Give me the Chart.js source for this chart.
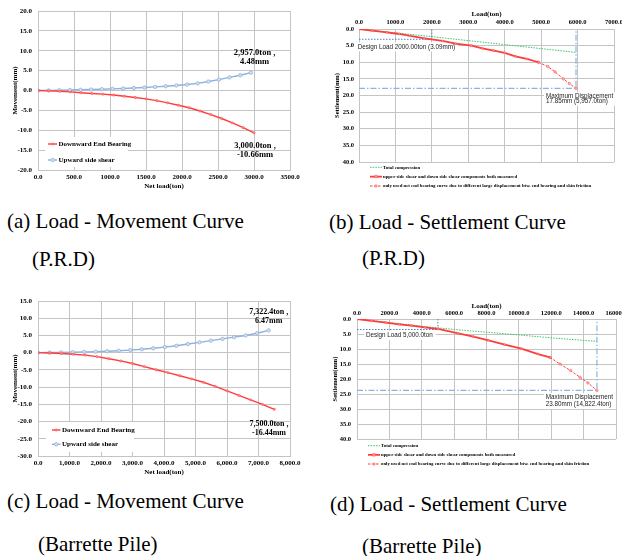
<!DOCTYPE html>
<html>
<head>
<meta charset="utf-8">
<title>Load - Movement / Settlement Curves</title>
<script src="https://cdn.jsdelivr.net/npm/chart.js@4.4.1/dist/chart.umd.min.js"></script>
<style>
  html, body { margin: 0; padding: 0; overflow: hidden; background: #fff; }
  body { position: relative; width: 622px; height: 556px; }
  canvas { position: absolute; }
  .cap { position: absolute; font-family: "Liberation Serif", "Times New Roman", serif; font-size: 21px; line-height: 21px; white-space: nowrap; color: #000; }
</style>
</head>
<body>
<canvas id="chartA" width="310" height="200" style="left:0;top:0"></canvas>
<canvas id="chartB" width="330" height="200" style="left:310px;top:0"></canvas>
<canvas id="chartC" width="310" height="200" style="left:0;top:280px"></canvas>
<canvas id="chartD" width="330" height="200" style="left:310px;top:280px"></canvas>

<div class="cap" style="left:7px;top:211px">(a) Load - Movement Curve</div>
<div class="cap" style="left:32px;top:249px">(P.R.D)</div>
<div class="cap" style="left:329px;top:212px">(b) Load - Settlement Curve</div>
<div class="cap" style="left:362px;top:248px">(P.R.D)</div>
<div class="cap" style="left:7px;top:491px">(c) Load - Movement Curve</div>
<div class="cap" style="left:38px;top:534px">(Barrette Pile)</div>
<div class="cap" style="left:330px;top:494px">(d) Load - Settlement Curve</div>
<div class="cap" style="left:362px;top:536px">(Barrette Pile)</div>

<script>
// ---- data ----
// (a) P.R.D, load - movement
const loadA_end = [0, 150, 300, 450, 600, 750, 900, 1050, 1200, 1350, 1500, 1650, 1800, 1950, 2100, 2250, 2400, 2550, 2700, 2850, 3000];
const moveA_end = [0, -0.1, -0.2, -0.35, -0.55, -0.75, -0.92, -1.15, -1.45, -1.75, -2.1, -2.55, -3.1, -3.7, -4.35, -5.15, -6.05, -7.05, -8.15, -9.35, -10.66];
const loadA_side = [0, 148, 296, 444, 591, 739, 887, 1035, 1183, 1331, 1479, 1626, 1774, 1922, 2070, 2218, 2366, 2513, 2661, 2809, 2957];
const moveA_side = [0, 0.03, 0.07, 0.12, 0.18, 0.25, 0.33, 0.42, 0.52, 0.63, 0.75, 0.9, 1.07, 1.27, 1.5, 1.8, 2.25, 2.75, 3.3, 3.85, 4.48];

// (b) P.R.D, load - settlement
const loadB_comp = [0, 1000, 2000, 3000, 4000, 5000, 5957];
const setB_comp = [0, 1.15, 2.3, 3.5, 4.7, 5.9, 7.05];
const loadB_meas = [0, 364, 764, 1100, 1409, 1791, 2291, 2655, 3091, 3382, 3700, 4000, 4291, 4609, 4927];
const setB_meas = [0, 0.5, 1.0, 1.5, 2.1, 2.8, 3.6, 4.4, 5.0, 5.8, 6.5, 7.2, 8.2, 9.0, 10.0];
const loadB_end = [4927, 5182, 5382, 5609, 5773, 5957];
const setB_end = [10.0, 11.3, 12.9, 15.0, 16.4, 17.85];
const designB = [2000, 3.09];
const maxB = [5957, 17.85];

// (c) Barrette pile, load - movement
const loadC_end = [0, 375, 750, 1125, 1500, 1875, 2250, 2625, 3000, 3375, 3750, 4125, 4500, 4875, 5250, 5625, 6000, 6375, 6750, 7125, 7500];
const moveC_end = [0, -0.1, -0.25, -0.45, -0.7, -1.15, -1.75, -2.4, -3.15, -4.05, -4.95, -5.8, -6.7, -7.6, -8.6, -9.8, -11.1, -12.4, -13.7, -15.0, -16.44];
const loadC_side = [0, 366, 732, 1098, 1464, 1831, 2197, 2563, 2929, 3295, 3661, 4027, 4393, 4759, 5126, 5492, 5858, 6224, 6590, 6956, 7322.4];
const moveC_side = [0, 0.03, 0.08, 0.14, 0.22, 0.31, 0.42, 0.56, 0.75, 0.98, 1.27, 1.62, 2.0, 2.5, 3.0, 3.5, 4.0, 4.5, 5.0, 5.65, 6.47];

// (d) Barrette pile, load - settlement
const loadD_comp = [0, 2000, 4000, 6000, 8000, 10000, 12000, 14822.4];
const setD_comp = [0, 1.2, 2.4, 3.5, 4.4, 5.3, 6.3, 7.45];
const loadD_meas = [0, 900, 1788, 2610, 3371, 4193, 5015, 6249, 7194, 8119, 9126, 10154, 11182, 11922];
const setD_meas = [0, 0.6, 1.22, 1.78, 2.22, 2.78, 3.33, 4.78, 5.89, 7.1, 8.56, 9.9, 11.7, 12.8];
const loadD_end = [11922, 12539, 13196, 13772, 14265, 14822.4];
const setD_end = [12.8, 15.0, 17.2, 19.4, 21.3, 23.8];
const designD = [5000, 3.5];
const maxD = [14822.4, 23.8];

// axis ranges [min, max, step]
const xRangeA = [0, 3500, 500], yRangeA = [-20, 20, 5];
const xRangeB = [0, 7000, 1000], yRangeB = [0, 40, 5];
const xRangeC = [0, 8000, 1000], yRangeC = [-30, 15, 5];
const xRangeD = [0, 16000, 2000], yRangeD = [0, 40, 5];

const legendMove = ['Downward End Bearing', 'Upward side shear'];
const legendSettle = [
  'Total compression',
  'upper side shear and down side shear components both measured',
  'only used net end bearing curve due to different large displacement btw. end bearing and skin friction'
];

// ---- styling ----
const SERIF = '"Liberation Serif", "Times New Roman", serif';
const SANS = '"Liberation Sans", Arial, sans-serif';
const RED = '#ff3c3c';
const BLUE = '#8eb1dd';
const GREEN = '#34c96a';
const GRID = '#c4c4c4';

Chart.defaults.font.family = SERIF;
Chart.defaults.color = '#000';

const pts = (xs, ys) => xs.map((x, i) => ({ x: x, y: ys[i] }));
const fmt1 = v => v.toFixed(1);
const fmtComma = v => v.toLocaleString('en-US', { minimumFractionDigits: 1, maximumFractionDigits: 1 });

function axisX(o) {
  return {
    type: 'linear', position: o.pos, min: o.range[0], max: o.range[1],
    ticks: { stepSize: o.range[2], autoSkip: false, maxRotation: 0, padding: o.tickPad,
             font: { size: o.tickSize, weight: 'bold' }, callback: o.fmt },
    grid: { color: GRID, drawTicks: false },
    border: { color: GRID },
    title: { display: true, text: o.title, font: { size: 7, weight: 'bold' }, padding: o.titlePad },
    afterFit: s => { s.height = o.size; }
  };
}

function axisY(o) {
  return {
    type: 'linear', position: 'left', min: o.range[0], max: o.range[1], reverse: !!o.reverse,
    ticks: { stepSize: o.range[2], autoSkip: false, padding: o.tickPad,
             font: { size: o.tickSize, weight: 'bold' }, callback: fmt1 },
    grid: { color: GRID, drawTicks: false },
    border: { color: GRID },
    title: { display: true, text: o.title, font: { size: o.titleSize, weight: 'bold' }, padding: { top: o.titlePad, bottom: 0 } },
    afterFit: s => { s.width = o.size; }
  };
}

// notes go under the curves, legends over them
function extras(cfg) {
  return {
    id: 'extras',
    beforeDatasetsDraw(chart) {
      const ctx = chart.ctx, xs = chart.scales.x, ys = chart.scales.y;
      (cfg.notes || []).forEach(n => {
        ctx.save();
        ctx.font = n.font;
        ctx.textBaseline = 'middle';
        ctx.textAlign = n.align;
        const px = xs.getPixelForValue(n.x), py = ys.getPixelForValue(n.y);
        if (n.bg) {
          const w = Math.max(...n.lines.map(t => ctx.measureText(t).width));
          const left = n.align === 'center' ? px - w / 2 : px;
          ctx.fillStyle = '#fff';
          ctx.fillRect(left - 2, py - n.lh / 2 - 1, w + 5, n.lines.length * n.lh + 2);
        }
        ctx.fillStyle = n.color || '#000';
        n.lines.forEach((t, i) => ctx.fillText(t, px, py + i * n.lh));
        ctx.restore();
      });
    },
    afterDatasetsDraw(chart) {
      const ctx = chart.ctx;
      const lg = cfg.legend;
      if (!lg) return;
      ctx.save();
      if (lg.bg) {
        ctx.fillStyle = '#fff';
        ctx.fillRect(lg.bg[0], lg.bg[1], lg.bg[2], lg.bg[3]);
      }
      lg.items.forEach((it, i) => {
        const ds = chart.data.datasets[it.ds];
        const y = lg.y + i * lg.rowH;
        ctx.strokeStyle = ds.borderColor;
        ctx.lineWidth = ds.borderWidth;
        ctx.setLineDash(ds.borderDash || []);
        ctx.beginPath();
        ctx.moveTo(lg.x, y);
        ctx.lineTo(lg.x + lg.sampleW, y);
        ctx.stroke();
        ctx.setLineDash([]);
        if (ds.pointRadius) {
          const r = ds.pointRadius, cx = lg.x + lg.sampleW / 2;
          ctx.fillStyle = ds.pointBackgroundColor || ds.borderColor;
          ctx.strokeStyle = ds.pointBorderColor || ds.borderColor;
          ctx.lineWidth = ds.pointBorderWidth || 0.5;
          ctx.beginPath();
          if (ds.pointStyle === 'rect') ctx.rect(cx - r, y - r, 2 * r, 2 * r);
          else ctx.arc(cx, y, r, 0, 2 * Math.PI);
          ctx.fill();
          ctx.stroke();
        }
        ctx.fillStyle = '#000';
        ctx.font = lg.font;
        ctx.textBaseline = 'middle';
        ctx.textAlign = 'left';
        ctx.fillText(ds.label, lg.x + lg.sampleW + lg.gap, y);
      });
      ctx.restore();
    }
  };
}

function movementChart(id, o) {
  return new Chart(document.getElementById(id), {
    type: 'line',
    data: {
      datasets: [
        { label: legendMove[0], data: pts(o.endX, o.endY), borderColor: RED, borderWidth: 1.4,
          pointRadius: 1.2, pointBackgroundColor: '#ff8a8a', pointBorderColor: RED, pointBorderWidth: 0.4 },
        { label: legendMove[1], data: pts(o.sideX, o.sideY), borderColor: BLUE, borderWidth: 1.4,
          pointRadius: 1.7, pointBackgroundColor: '#d6e2f2', pointBorderColor: BLUE, pointBorderWidth: 0.8 }
      ]
    },
    options: {
      responsive: false, animation: false,
      layout: { padding: o.padding },
      plugins: { legend: { display: false }, tooltip: { enabled: false } },
      scales: {
        x: axisX({ pos: 'bottom', range: o.xRange, tickPad: 3, tickSize: 7, fmt: o.fmt,
                   title: 'Net load(ton)', titlePad: { top: 0, bottom: o.xTitlePad }, size: o.xSize }),
        y: axisY({ range: o.yRange, tickPad: 6, tickSize: 7, title: 'Movement(mm)', titleSize: 7,
                   titlePad: 10.8, size: 38 })
      }
    },
    plugins: [extras({ notes: o.notes, legend: o.legend })]
  });
}

function settlementChart(id, o) {
  const design = [{ x: 0, y: o.design[1] }, { x: o.design[0], y: o.design[1] }, { x: o.design[0], y: 0 }];
  const maxLine = [{ x: 0, y: o.max[1] }, { x: o.max[0], y: o.max[1] }, { x: o.max[0], y: 0 }];
  return new Chart(document.getElementById(id), {
    type: 'line',
    data: {
      datasets: [
        { label: legendSettle[0], data: pts(o.compX, o.compY), borderColor: GREEN, borderWidth: 1,
          borderDash: [1.5, 1.2], pointRadius: 0, order: 2 },
        { label: legendSettle[1], data: pts(o.measX, o.measY), borderColor: RED, borderWidth: 1.8,
          pointRadius: 1.3, pointStyle: 'rect', pointBackgroundColor: '#ff9a9a', pointBorderColor: RED, pointBorderWidth: 0.4, order: 0 },
        { label: legendSettle[2], data: pts(o.endX, o.endY), borderColor: RED, borderWidth: 1,
          borderDash: [2.5, 1.5], pointRadius: 1.3, pointBackgroundColor: '#ffb0b0', pointBorderColor: RED, pointBorderWidth: 0.4, order: 1 },
        { label: 'design', data: design, borderColor: '#4f7fc4', borderWidth: 1, borderDash: [1.5, 1.5], pointRadius: 0, order: 3 },
        { label: 'max', data: maxLine, borderColor: '#8db3e2', borderWidth: 1.2, borderDash: [6, 2, 1.5, 2], pointRadius: 0, order: 4 }
      ]
    },
    options: {
      responsive: false, animation: false,
      layout: { padding: o.padding },
      plugins: { legend: { display: false }, tooltip: { enabled: false } },
      scales: {
        x: axisX({ pos: 'top', range: o.xRange, tickPad: o.xTickPad, tickSize: 6.5, fmt: fmt1,
                   title: 'Load(ton)', titlePad: { top: o.xTitlePad, bottom: 0 }, size: o.xSize }),
        y: axisY({ range: o.yRange, reverse: true, tickPad: o.yTickPad, tickSize: 6.5, title: 'Settlement(mm)',
                   titleSize: 6.5, titlePad: o.yTitlePad, size: o.ySize })
      }
    },
    plugins: [extras({ notes: o.notes, legend: o.legend })]
  });
}

const noteSerif = 'bold 8.5px ' + SERIF;
const noteSans = '6.3px ' + SANS;
const legendSmall = 'bold 4.8px ' + SERIF;

movementChart('chartA', {
  endX: loadA_end, endY: moveA_end, sideX: loadA_side, sideY: moveA_side,
  xRange: xRangeA, yRange: yRangeA, fmt: fmt1, xSize: 30, xTitlePad: 10,
  padding: { left: 0, top: 11, right: 20, bottom: 0 },
  notes: [
    { x: 3008, y: 9.36, lines: ['2,957.0ton ,', '4.48mm'], lh: 8.4, align: 'center', font: noteSerif },
    { x: 3014, y: -13.9, lines: ['3,000.0ton ,', '-10.66mm'], lh: 9.3, align: 'center', font: noteSerif }
  ],
  legend: { x: 48, y: 144, rowH: 16, sampleW: 9, gap: 1.5, font: 'bold 7px ' + SERIF,
            bg: [45, 137, 83, 30], items: [{ ds: 0 }, { ds: 1 }] }
});

settlementChart('chartB', {
  compX: loadB_comp, compY: setB_comp, measX: loadB_meas, measY: setB_meas, endX: loadB_end, endY: setB_end,
  design: designB, max: maxB, xRange: xRangeB, yRange: yRangeB,
  xSize: 29, xTickPad: 3, xTitlePad: 9.8, ySize: 49, yTickPad: 5, yTitlePad: 23,
  padding: { left: 0, top: 0, right: 26, bottom: 38 },
  notes: [
    { x: -35, y: 5.4, lines: ['Design Load 2000.00ton (3.09mm)'], lh: 7, align: 'left', font: noteSans, bg: true, color: '#222' },
    { x: 5133, y: 20.15, lines: ['Maximum Displacement', '17.85mm (5,957.0ton)'], lh: 5.7, align: 'left', font: noteSans, bg: true, color: '#222' }
  ],
  legend: { x: 60, y: 167.3, rowH: 9.35, sampleW: 12, gap: 1, font: legendSmall,
            items: [{ ds: 0 }, { ds: 1 }, { ds: 2 }] }
});

movementChart('chartC', {
  endX: loadC_end, endY: moveC_end, sideX: loadC_side, sideY: moveC_side,
  xRange: xRangeC, yRange: yRangeC, fmt: fmtComma, xSize: 24, xTitlePad: 4.1,
  padding: { left: 0, top: 21, right: 20, bottom: 0 },
  notes: [
    { x: 7324, y: 11.9, lines: ['7,322.4ton ,', '6.47mm'], lh: 9, align: 'center', font: 'bold 8px ' + SERIF },
    { x: 7333, y: -20.7, lines: ['7,500.0ton ,', '-16.44mm'], lh: 9.3, align: 'center', font: 'bold 8px ' + SERIF }
  ],
  legend: { x: 52, y: 150, rowH: 14.3, sampleW: 8.5, gap: 1.5, font: 'bold 7px ' + SERIF,
            bg: [46, 142, 88, 30], items: [{ ds: 0 }, { ds: 1 }] }
});

settlementChart('chartD', {
  compX: loadD_comp, compY: setD_comp, measX: loadD_meas, measY: setD_meas, endX: loadD_end, endY: setD_end,
  design: designD, max: maxD, xRange: xRangeD, yRange: yRangeD,
  xSize: 39, xTickPad: 2.1, xTitlePad: 21.8, ySize: 47, yTickPad: 6, yTitlePad: 21,
  padding: { left: 0, top: 0, right: 24, bottom: 41 },
  notes: [
    { x: 555, y: 5.47, lines: ['Design Load 5,000.0ton'], lh: 7, align: 'left', font: noteSans, bg: true, color: '#222' },
    { x: 11667, y: 26.2, lines: ['Maximum Displacement', '23.80mm (14,822.4ton)'], lh: 7, align: 'left', font: noteSans, bg: true, color: '#222' }
  ],
  legend: { x: 58, y: 165.7, rowH: 9.15, sampleW: 12, gap: 1, font: legendSmall,
            items: [{ ds: 0 }, { ds: 1 }, { ds: 2 }] }
});
</script>
</body>
</html>
